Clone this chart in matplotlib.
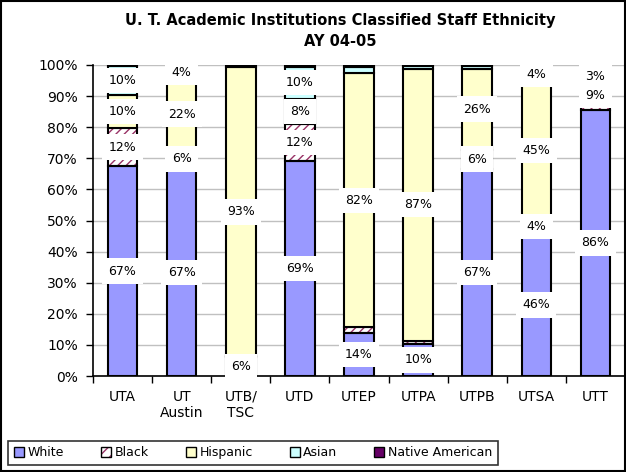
import numpy as np
import matplotlib.pyplot as plt
from matplotlib.patches import Patch, Rectangle

# 100% stacked shares per campus (percent)
campuses = ['UTA', 'UT\nAustin', 'UTB/\nTSC', 'UTD', 'UTEP', 'UTPA', 'UTPB', 'UTSA', 'UTT']
white = [67.4, 66.6, 6.2, 69.2, 13.8, 10.4, 66.6, 45.8, 85.6]
black = [12.4, 6.4, 0.2, 11.8, 1.8, 1.0, 6.2, 4.4, 9.2]
hispanic = [10.4, 22.4, 92.8, 8.2, 81.8, 87.4, 26.0, 44.6, 3.2]
asian = [9.6, 4.4, 0.7, 10.2, 1.8, 1.0, 1.0, 4.4, 1.4]
native = [0.2, 0.2, 0.1, 0.6, 0.8, 0.2, 0.2, 0.8, 0.6]

series = [('White', white, '#9999FF', None),
          ('Black', black, 'white', '////'),
          ('Hispanic', hispanic, '#FFFFCC', None),
          ('Asian', asian, '#CCFFFF', None),
          ('Native American', native, '#660066', None)]
hatch_col = '#993366'

fig = plt.figure(figsize=(6.26, 4.72), dpi=100)
ax = fig.add_axes([93/626, 1 - 376/472, (625 - 93)/626, (376 - 65)/472])

x = np.arange(len(campuses))
bottom = np.zeros(len(campuses))
for name, vals, col, hatch in series:
    vals = np.array(vals)
    if hatch:
        ax.bar(x, vals, 0.5, bottom=bottom, color=col, edgecolor=hatch_col,
               hatch=hatch, linewidth=0, zorder=2)
        ax.bar(x, vals, 0.5, bottom=bottom, fill=False, edgecolor='black',
               linewidth=1.5, zorder=3)
    else:
        ax.bar(x, vals, 0.5, bottom=bottom, color=col, edgecolor='black',
               linewidth=1.5, zorder=3)
    for xi, b, v in zip(x, bottom, vals):
        if v >= 3:
            ax.text(xi, b + v / 2, f'{v:.0f}%', ha='center', va='center',
                    fontsize=9, zorder=5,
                    bbox=dict(facecolor='white', edgecolor='none', pad=4.5))
    bottom += vals

ax.set_xlim(-0.5, len(campuses) - 0.5)
ax.set_ylim(0, 100)
ax.set_yticks(np.arange(0, 101, 10))
ax.set_yticklabels([f'{t}%' for t in range(0, 101, 10)], fontsize=10)
ax.set_xticks(np.arange(-0.5, len(campuses), 1))
ax.set_xticklabels([])
ax.set_xticks(x, minor=True)
ax.set_xticklabels(campuses, minor=True, fontsize=10)
ax.tick_params(axis='x', which='minor', length=0, pad=10)
ax.tick_params(axis='both', which='major', length=5, width=1, direction='out')
ax.tick_params(axis='y', pad=6)
ax.yaxis.grid(True, color='#C0C0C0', linewidth=1)
ax.set_axisbelow(True)
for s in ['top', 'right']:
    ax.spines[s].set_visible(False)
ax.spines['left'].set_linewidth(1.2)
ax.spines['bottom'].set_linewidth(1.2)

fig.text(340/626, 1 - 20/472, 'U. T. Academic Institutions Classified Staff Ethnicity',
         ha='center', va='center', fontsize=10.5, fontweight='bold')
fig.text(340/626, 1 - 42/472, 'AY 04-05', ha='center', va='center',
         fontsize=10.5, fontweight='bold')

handles = []
for name, vals, col, hatch in series:
    if hatch:
        handles.append((Patch(facecolor=col, edgecolor=hatch_col, hatch='///', linewidth=0),
                        Patch(fill=False, edgecolor='black')))
    else:
        handles.append(Patch(facecolor=col, edgecolor='black'))
labels = [s[0] for s in series]
leg = fig.legend(handles, labels, ncol=5, loc='lower left',
                 bbox_to_anchor=(2/626, 0.002), fontsize=9, frameon=True,
                 fancybox=False, edgecolor='black', handlelength=0.8,
                 handleheight=0.8, handletextpad=0.3, columnspacing=2.95,
                 borderpad=0.45)
leg.get_frame().set_linewidth(1.2)

fig.add_artist(Rectangle((0.002, 0.002), 0.996, 0.996, transform=fig.transFigure,
                         fill=False, edgecolor='black', linewidth=1.5))

fig.savefig('out.png', dpi=100)
